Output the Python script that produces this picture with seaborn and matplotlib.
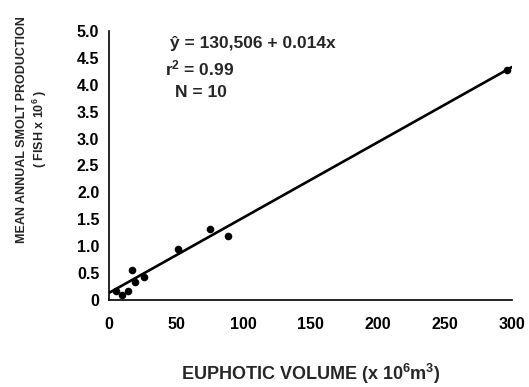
import matplotlib
matplotlib.use("Agg")
import matplotlib.pyplot as plt
import numpy as np
import pandas as pd
import seaborn as sns

# euphotic volume (x 10^6 m^3) vs mean annual smolt production (fish x 10^6)
euphotic_volume = [5, 10, 14, 17.5, 19, 26, 51, 75, 88.5, 296]
smolt_production = [0.16, 0.09, 0.16, 0.55, 0.33, 0.42, 0.95, 1.31, 1.18, 4.27]

# fitted regression (from the figure annotation), in 10^6 fish
fit_intercept = 0.130506
fit_slope = 0.014

x_ticks = [0, 50, 100, 150, 200, 250, 300]
y_ticks = [0, 0.5, 1.0, 1.5, 2.0, 2.5, 3.0, 3.5, 4.0, 4.5, 5.0]
y_ticklabels = ["0", "0.5", "1.0", "1.5", "2.0", "2.5", "3.0", "3.5", "4.0", "4.5", "5.0"]

sns.set_style("white")
plt.rcParams['font.family'] = ['Liberation Sans', 'DejaVu Sans']
plt.rcParams['font.weight'] = 'bold'
plt.rcParams['axes.labelweight'] = 'bold'
plt.rcParams['mathtext.fontset'] = 'custom'
plt.rcParams['mathtext.rm'] = 'Liberation Sans:bold'
plt.rcParams['mathtext.bf'] = 'Liberation Sans:bold'
plt.rcParams['mathtext.it'] = 'Liberation Sans:bold'
plt.rcParams['mathtext.default'] = 'bf'

df = pd.DataFrame({"volume": euphotic_volume, "smolts": smolt_production})

fig = plt.figure(figsize=(5.29, 3.87), dpi=100)
ax = fig.add_axes([0.206, 0.225, 0.762, 0.695])

line_x = np.array([x_ticks[0], x_ticks[-1]], dtype=float)
line_df = pd.DataFrame({"volume": line_x, "smolts": fit_intercept + fit_slope * line_x})
sns.lineplot(data=line_df, x="volume", y="smolts", ax=ax, color="black", linewidth=1.9)
sns.scatterplot(data=df, x="volume", y="smolts", ax=ax, color="black", s=30,
                edgecolor="black", linewidth=0, zorder=3)

ax.set_xlim(0, 300)
ax.set_ylim(0, 5.0)
ax.set_xticks(x_ticks)
ax.set_yticks(y_ticks)
ax.set_yticklabels(y_ticklabels)
for s in ["top", "right"]:
    ax.spines[s].set_visible(False)
for s in ["left", "bottom"]:
    ax.spines[s].set_linewidth(1.2)
    ax.spines[s].set_color("black")
ax.tick_params(axis="both", direction="in", length=5, width=1.2, labelsize=11.5, colors="black")
ax.tick_params(axis="x", pad=12)
ax.tick_params(axis="y", pad=7)

ax.set_xlabel("EUPHOTIC VOLUME (x 10$^{6}$m$^{3}$)", fontsize=13)
ax.xaxis.set_label_coords(0.5, -0.23)
ax.set_ylabel("MEAN ANNUAL SMOLT PRODUCTION\n( FISH x 10$^{6}$ )", fontsize=9,
              linespacing=1.2)
ax.yaxis.set_label_coords(-0.15, 0.635)

ax.text(0.151, 0.955, "ŷ = 130,506 + 0.014x", transform=ax.transAxes, fontsize=12.5, va="center")
ax.text(0.139, 0.862, "r$^{2}$ = 0.99", transform=ax.transAxes, fontsize=12.5, va="center")
ax.text(0.164, 0.773, "N = 10", transform=ax.transAxes, fontsize=12.5, va="center")

plt.savefig("out.png", dpi=100)
